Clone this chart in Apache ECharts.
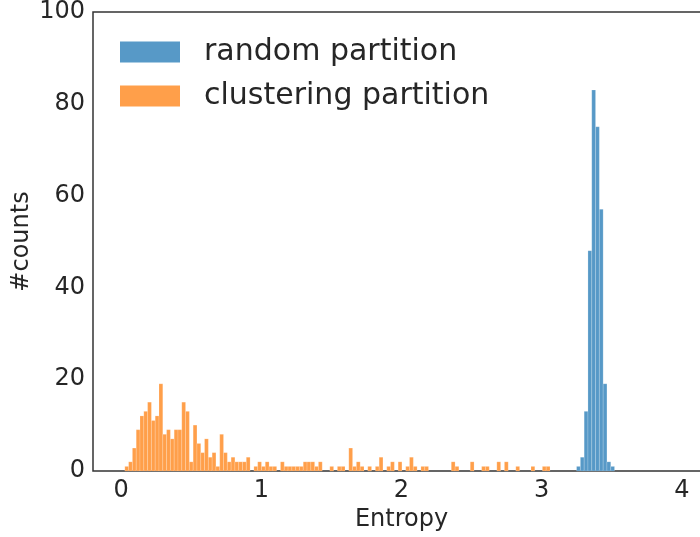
<!DOCTYPE html>
<html>
<head>
<meta charset="utf-8">
<script src="https://cdn.jsdelivr.net/npm/echarts@6/dist/echarts.min.js"></script>
<style>
  html, body { margin: 0; padding: 0; background: #fff; }
  #chart { width: 700px; height: 537px; }
</style>
</head>
<body>
<div id="chart"></div>
<script>
// histogram bins (shared width), counts
const binWidth = 0.02707
const clusterStart = 0.027
const clusterCounts = [
  1, 2, 5, 9, 12, 13, 15, 11, 12, 19, 8, 9, 7, 9, 9, 15, 13, 2, 10,
  6, 4, 7, 3, 4, 1, 8, 4, 2, 3, 2, 2, 2, 3, 0, 1, 2, 1, 2, 1, 1,
  0, 2, 1, 1, 1, 1, 1, 2, 2, 2, 1, 2, 0, 0, 1, 0, 1, 1,
  0, 5, 1, 2, 1, 0, 1, 0, 1, 3, 0, 1, 2, 0, 2, 0, 1, 3, 1, 0, 1, 1,
  0, 0, 0, 0, 0, 0, 2, 1, 0, 0, 0, 2, 0, 0, 1, 1, 0, 0, 2, 0, 2, 0, 0, 1, 0, 0, 0, 1, 0, 0, 1, 1
]
const randomStart = 3.2485
const randomCounts = [1, 3, 13, 48, 83, 75, 57, 19, 2, 1]

const seriesNames = ['random partition', 'clustering partition']
const blue = '#5799c7'
const orange = '#ff9f4a'

function toBins(start, counts) {
  const out = []
  counts.forEach((c, i) => {
    if (c > 0) {
      const x0 = start + i * binWidth
      out.push([x0, x0 + binWidth, c])
    }
  })
  return out
}

function barRenderer(color) {
  return function (params, api) {
    const top = api.coord([api.value(0), api.value(2)])
    const bottom = api.coord([api.value(1), 0])
    return {
      type: 'rect',
      shape: { x: top[0], y: top[1], width: bottom[0] - top[0], height: bottom[1] - top[1] },
      style: { fill: color, stroke: 'rgba(255,255,255,0.35)', lineWidth: 0.5 }
    }
  }
}

const font = 'DejaVu Sans'
const chart = echarts.init(document.getElementById('chart'))

chart.setOption({
  animation: false,
  textStyle: { fontFamily: font },
  grid: {
    left: 93,
    right: -10,
    top: 12,
    bottom: 66,
    outerBoundsMode: 'none',
    containLabel: false,
    show: true,
    borderColor: '#333',
    borderWidth: 1.5
  },
  legend: {
    orient: 'vertical',
    left: 120,
    top: 37,
    padding: 0,
    itemWidth: 60,
    itemHeight: 21,
    itemGap: 14,
    icon: 'rect',
    data: seriesNames,
    textStyle: { fontSize: 30, color: '#262626', fontFamily: font, padding: [0, 0, 0, 19] }
  },
  xAxis: {
    type: 'value',
    min: -0.2,
    max: 4.2,
    name: 'Entropy',
    nameLocation: 'middle',
    nameGap: 37,
    nameTextStyle: { fontSize: 24, color: '#262626', fontFamily: font },
    axisLine: { show: false },
    axisTick: { show: false },
    splitLine: { show: false },
    axisLabel: {
      fontSize: 24,
      color: '#262626',
      margin: 8,
      showMinLabel: false,
      showMaxLabel: false,
      fontFamily: font
    }
  },
  yAxis: {
    type: 'value',
    min: 0,
    max: 100,
    interval: 20,
    name: '#counts',
    nameLocation: 'middle',
    nameGap: 59,
    nameMoveOverlap: false,
    nameTextStyle: { fontSize: 24, color: '#262626', fontFamily: font },
    axisLine: { show: false },
    axisTick: { show: false },
    splitLine: { show: false },
    axisLabel: { fontSize: 24, color: '#262626', margin: 8, fontFamily: font }
  },
  series: [
    {
      name: seriesNames[0],
      type: 'custom',
      itemStyle: { color: blue },
      encode: { x: [0, 1], y: 2 },
      renderItem: barRenderer(blue),
      data: toBins(randomStart, randomCounts)
    },
    {
      name: seriesNames[1],
      type: 'custom',
      itemStyle: { color: orange },
      encode: { x: [0, 1], y: 2 },
      renderItem: barRenderer(orange),
      data: toBins(clusterStart, clusterCounts)
    }
  ]
})
</script>
</body>
</html>
